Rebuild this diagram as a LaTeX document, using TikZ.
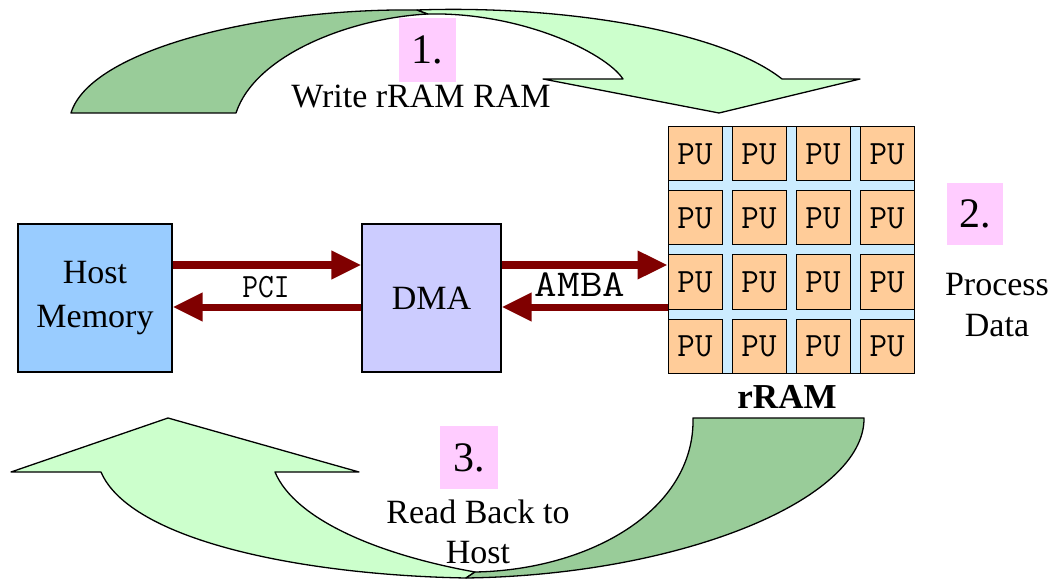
\documentclass[tikz,border=0pt]{standalone}
\usepackage{fontspec}
\usepackage{graphicx}
\setmainfont{Liberation Serif}
\usetikzlibrary{arrows.meta}

\definecolor{hostblue}{HTML}{99CCFF}
\definecolor{dmaviolet}{HTML}{CCCCFF}
\definecolor{puorange}{HTML}{FFCC99}
\definecolor{gridblue}{HTML}{CCECFF}
\definecolor{steppink}{HTML}{FFCCFF}
\definecolor{busred}{HTML}{800000}
\definecolor{flowlight}{HTML}{CCFFCC}
\definecolor{flowdark}{HTML}{99CC99}

\newcommand\fsz[2]{\fontsize{#1}{#2}\selectfont}

\begin{document}
\begin{tikzpicture}[x=1pt,y=-1pt,
  block/.style={draw=black, line width=1.2pt, inner sep=0pt, align=center,
    font=\fsz{34}{44}},
  pucell/.style={draw=black, line width=1pt, fill=puorange,
    minimum width=54pt, minimum height=54pt, inner sep=0pt,
    font=\ttfamily\fsz{34}{34}},
  stepnum/.style={fill=steppink, inner sep=0pt, font=\fsz{42}{42}},
  txt/.style={inner sep=0pt, align=center, font=\fsz{34}{41}},
  bus/.style={draw=busred, line width=7pt, -{Triangle[length=30pt,width=27pt]}},
  flowband/.style={draw=black, line width=1.3pt, line join=round},
]
\useasboundingbox (0,0) rectangle (1055,580);

% step 1: curved band over the top (back side dark, front side light)
\filldraw[flowband, fill=flowdark] (71,113) .. controls (90,50) and (260,8) .. (417,10)
  -- (428,14) .. controls (350,18) and (255,55) .. (236,113) -- cycle;
\filldraw[flowband, fill=flowlight] (417,10) .. controls (560,5) and (720,30) .. (782,79)
  -- (860,79) -- (719,113) -- (543,79) -- (623,79)
  .. controls (605,52) and (520,12) .. (428,14) -- cycle;

% step 3: curved band underneath, pointing back up to the host
\filldraw[flowband, fill=flowlight] (101,472) -- (11,472) -- (168,418) -- (359,472) -- (275,472)
  .. controls (295,520) and (380,555) .. (475,572) -- (466,578)
  .. controls (300,575) and (130,540) .. (101,472) -- cycle;
\filldraw[flowband, fill=flowdark] (466,578) .. controls (680,575) and (865,500) .. (864,418)
  -- (693,418) .. controls (695,510) and (590,570) .. (475,572) -- cycle;

% blocks
\node[block, fill=hostblue, minimum width=154pt, minimum height=148pt] (host) at (95,298) {Host\\Memory};
\node[block, fill=dmaviolet, minimum width=139pt, minimum height=148pt] (dma) at (431.5,298) {DMA};

% rRAM array of processing units
\node[draw=black, line width=1pt, fill=gridblue, minimum width=246pt, minimum height=246pt,
  inner sep=0pt] (rram) at (791,250) {};
\foreach \r in {0,...,3}
  \foreach \c in {0,...,3}
    \node[pucell] (pu-\r-\c) at (695+64*\c, 154+64*\r) {PU};
\node[txt, font=\bfseries\fsz{35}{35}] (rramname) at (787,397) {rRAM};

% buses
\draw[bus] ([yshift=33pt]host.east) -- ([yshift=33pt]dma.west);
\draw[bus] ([yshift=-9pt]dma.west) -- ([yshift=-9pt]host.east);
\draw[bus] ([yshift=33pt]dma.east) -- ([yshift=33pt]dma.east -| rram.west);
\draw[bus] ([yshift=-9pt]dma.east -| rram.west) -- ([yshift=-9pt]dma.east);
\node[txt, font=\ttfamily\fsz{34}{34}] (pci) at (266,287) {\scalebox{0.9}[1]{PCI}};
\node[txt, font=\ttfamily\fsz{38}{38}] (amba) at (580,285) {\scalebox{1.15}[1]{AMBA}};

% step labels
\node[stepnum, minimum width=57pt, minimum height=64pt] (s1) at (427.5,50) {1.};
\node[txt] (s1text) at (421,97) {Write rRAM RAM};
\node[stepnum, minimum width=56pt, minimum height=62pt] (s2) at (975,214) {2.};
\node[txt] (s2text) at (997,305) {Process\\Data};
\node[stepnum, minimum width=58pt, minimum height=63pt] (s3) at (469,457.5) {3.};
\node[txt, font=\fsz{34}{40}] (s3text) at (478,532) {Read Back to\\Host};
\end{tikzpicture}
\end{document}
